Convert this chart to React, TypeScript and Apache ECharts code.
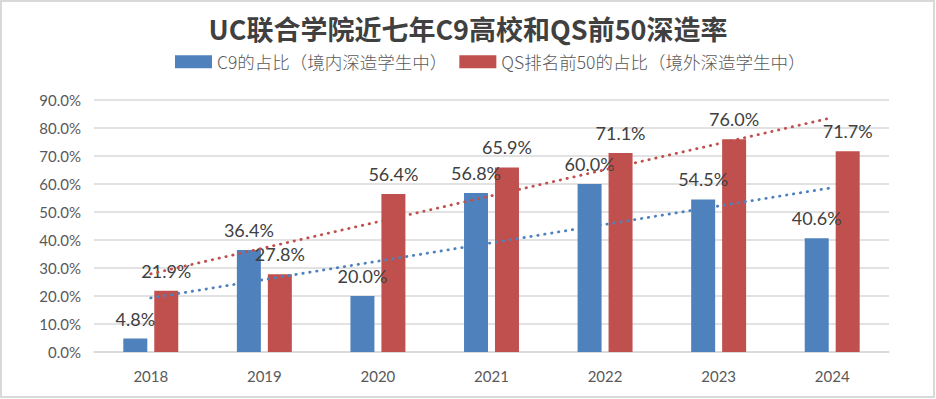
import React, { useEffect, useRef } from "react";
import * as echarts from "echarts";

const years = ["2018", "2019", "2020", "2021", "2022", "2023", "2024"];
const c9Share = [4.8, 36.4, 20.0, 56.8, 60.0, 54.5, 40.6];
const qsShare = [21.9, 27.8, 56.4, 65.9, 71.1, 76.0, 71.7];
// trend line end points: [first year value, last year value]
const c9Trend = [19.3, 58.7];
const qsTrend = [27.9, 83.7];
const yTicks = [0, 10, 20, 30, 40, 50, 60, 70, 80, 90];

const c9Name = "C9的占比（境内深造学生中）";
const qsName = "QS排名前50的占比（境外深造学生中）";
const titleText = "UC联合学院近七年C9高校和QS前50深造率";

const BLUE = "#4f81bd";
const RED = "#c0504d";
const NUM_FONT = "Lato, 'Noto Sans CJK SC', sans-serif";
const CJK_FONT = "'Noto Sans CJK SC', sans-serif";

export default function App() {
  const ref = useRef<HTMLDivElement>(null);
  useEffect(() => {
    if (!ref.current) return;
    const chart = echarts.init(ref.current, null, { renderer: "svg" });
    const pct = (v: number) => `${v.toFixed(1)}%`;
    const barLabel = {
      show: true,
      position: "top" as const,
      distance: 11,
      fontFamily: NUM_FONT,
      fontSize: 18,
      color: "#404040",
      formatter: (p: any) => pct(p.value),
    };
    const trendDots = (color: string) => ({
      color,
      width: 2.8,
      type: [0.4, 6.6],
      cap: "round" as const,
    });
    chart.setOption({
      animation: false,
      backgroundColor: "#ffffff",
      title: {
        text: titleText,
        left: "center",
        top: 10,
        textStyle: {
          fontFamily: CJK_FONT,
          fontSize: 27,
          fontWeight: "bold",
          color: "#404040",
        },
      },
      legend: {
        data: [c9Name, qsName],
        left: 170,
        top: 48,
        itemWidth: 37,
        itemHeight: 13,
        itemGap: 12,
        icon: "rect",
        textStyle: { fontFamily: CJK_FONT, fontSize: 17.5, fontWeight: 300, color: "#595959" },
      },
      graphic: [
        {
          type: "rect",
          shape: { x: 1, y: 1, width: 933, height: 396 },
          style: { fill: "none", stroke: "#d9d9d9", lineWidth: 2 },
          silent: true,
        },
      ],
      grid: { left: 94, right: 47, top: 100, bottom: 47 },
      xAxis: {
        type: "category",
        data: years,
        axisLine: { lineStyle: { color: "#d9d9d9", width: 1.5 } },
        axisTick: { show: false },
        axisLabel: {
          fontFamily: NUM_FONT,
          fontSize: 15,
          color: "#595959",
          margin: 16,
        },
      },
      yAxis: {
        type: "value",
        min: yTicks[0],
        max: yTicks[yTicks.length - 1],
        interval: 10,
        axisLine: { show: false },
        axisTick: { show: false },
        splitLine: { lineStyle: { color: "#d9d9d9", width: 1.5 } },
        axisLabel: {
          fontFamily: NUM_FONT,
          fontSize: 15,
          color: "#595959",
          margin: 13,
          formatter: (v: number) => pct(v),
        },
      },
      series: [
        {
          name: c9Name,
          type: "bar",
          data: c9Share,
          barWidth: 24,
          barGap: "29%",
          itemStyle: { color: BLUE },
          label: barLabel,
          z: 2,
        },
        {
          name: qsName,
          type: "bar",
          data: qsShare,
          barWidth: 24,
          barGap: "29%",
          itemStyle: { color: RED },
          label: barLabel,
          z: 2,
        },
        {
          name: "c9trend",
          type: "line",
          data: [
            [years[0], c9Trend[0]],
            [years[years.length - 1], c9Trend[1]],
          ],
          symbol: "none",
          lineStyle: trendDots(BLUE),
          z: 3,
          silent: true,
        },
        {
          name: "qstrend",
          type: "line",
          data: [
            [years[0], qsTrend[0]],
            [years[years.length - 1], qsTrend[1]],
          ],
          symbol: "none",
          lineStyle: trendDots(RED),
          z: 3,
          silent: true,
        },
      ],
    });
    return () => chart.dispose();
  }, []);
  return (
    <div
      ref={ref}
      style={{ position: "absolute", left: 0, top: 0, width: 936, height: 399 }}
    />
  );
}
